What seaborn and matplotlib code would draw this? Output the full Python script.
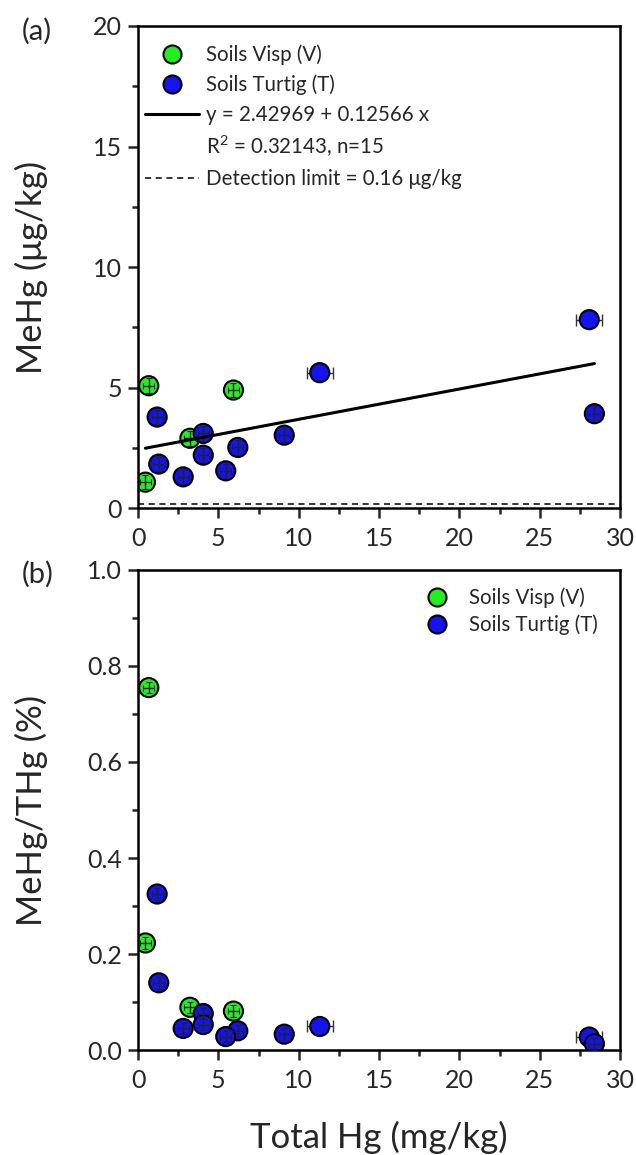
import numpy as np
import pandas as pd
import matplotlib
matplotlib.use("Agg")
import matplotlib.pyplot as plt
import seaborn as sns
from matplotlib.lines import Line2D
from matplotlib.ticker import MultipleLocator, FormatStrFormatter

# ---------------- data ----------------
visp_thg = [0.67, 5.94, 3.23, 0.46]
visp_thg_err = [0.35, 0.35, 0.35, 0.35]
visp_mehg = [5.08, 4.90, 2.90, 1.08]
visp_mehg_err = [0.3, 0.3, 0.3, 0.3]
visp_ratio = [0.755, 0.081, 0.089, 0.223]
visp_ratio_err = [0.012, 0.012, 0.012, 0.012]

turtig_thg = [1.19, 4.06, 9.10, 6.21, 4.06, 1.29, 5.46, 2.81, 11.31, 28.08, 28.40]
turtig_thg_err = [0.35, 0.35, 0.35, 0.35, 0.35, 0.35, 0.35, 0.35, 0.80, 0.80, 0.40]
turtig_mehg = [3.78, 3.10, 3.03, 2.52, 2.20, 1.83, 1.55, 1.30, 5.62, 7.82, 3.92]
turtig_mehg_err = [0.3, 0.3, 0.3, 0.3, 0.3, 0.3, 0.3, 0.3, 0.0, 0.0, 0.3]
turtig_ratio = [0.325, 0.076, 0.033, 0.040, 0.053, 0.140, 0.028, 0.045, 0.049, 0.027, 0.013]
turtig_ratio_err = [0.012] * 11

sites = ["Soils Visp (V)", "Soils Turtig (T)"]
site_colors = ["#22EE22", "#1414EE"]
fit_intercept = 2.42969
fit_slope = 0.12566
fit_label = "y = 2.42969 + 0.12566 x"
r2_label = "R$^2$ = 0.32143, n=15"
detection_limit = 0.16
detection_label = "Detection limit = 0.16 \u03bcg/kg"

x_ticks = [0, 5, 10, 15, 20, 25, 30]
top_y_ticks = [0, 5, 10, 15, 20]
bot_y_ticks = [0.0, 0.2, 0.4, 0.6, 0.8, 1.0]

df = pd.concat([
    pd.DataFrame({"site": sites[0], "thg": visp_thg, "thg_err": visp_thg_err,
                  "mehg": visp_mehg, "mehg_err": visp_mehg_err,
                  "ratio": visp_ratio, "ratio_err": visp_ratio_err}),
    pd.DataFrame({"site": sites[1], "thg": turtig_thg, "thg_err": turtig_thg_err,
                  "mehg": turtig_mehg, "mehg_err": turtig_mehg_err,
                  "ratio": turtig_ratio, "ratio_err": turtig_ratio_err}),
], ignore_index=True)

# ---------------- style ----------------
sns.set_style("ticks")
FAM = ["Lato", "DejaVu Sans"]
plt.rcParams["font.family"] = FAM
plt.rcParams["mathtext.fontset"] = "custom"
plt.rcParams["mathtext.rm"] = "Lato"
plt.rcParams["mathtext.it"] = "Lato:italic"
plt.rcParams["axes.linewidth"] = 1.8
for a in ("x", "y"):
    plt.rcParams[f"{a}tick.major.width"] = 1.8
    plt.rcParams[f"{a}tick.minor.width"] = 1.8
    plt.rcParams[f"{a}tick.major.size"] = 7.5
    plt.rcParams[f"{a}tick.minor.size"] = 4
plt.rcParams["axes.edgecolor"] = "black"

fig = plt.figure(figsize=(6.36, 11.55), dpi=100)
ax1 = fig.add_axes([0.217, 0.560, 0.758, 0.4175])
ax2 = fig.add_axes([0.217, 0.0909, 0.758, 0.4156])

palette = dict(zip(sites, site_colors))
TICK_FS = 18
LABEL_FS = 25
LEG_FS = 14.8


def draw(ax, ycol, yerrcol):
    big = df["thg_err"] > 0.5
    # large error bars behind markers
    ax.errorbar(df.loc[big, "thg"], df.loc[big, ycol], xerr=df.loc[big, "thg_err"],
                yerr=df.loc[big, yerrcol], fmt="none", ecolor="#333333",
                elinewidth=1.0, capsize=4, capthick=1.0, zorder=1)
    sns.scatterplot(data=df, x="thg", y=ycol, hue="site", palette=palette,
                    s=190, edgecolor="black", linewidth=1.5, legend=False,
                    zorder=2, ax=ax)
    # small error bars on top (visible as crosses in the markers)
    ax.errorbar(df.loc[~big, "thg"], df.loc[~big, ycol], xerr=df.loc[~big, "thg_err"],
                yerr=df.loc[~big, yerrcol], fmt="none", ecolor="#222222",
                elinewidth=1.0, capsize=2, capthick=0.8, zorder=3)


def style_axes(ax):
    for s in ["top", "right"]:
        ax.spines[s].set_visible(True)
    ax.tick_params(axis="x", which="both", labelsize=TICK_FS, direction="out", pad=6)
    ax.tick_params(axis="y", which="both", labelsize=TICK_FS, direction="out", pad=4)
    ax.xaxis.set_minor_locator(MultipleLocator(2.5))


# ---------------- panel (a) ----------------
draw(ax1, "mehg", "mehg_err")
xs = np.array([df["thg"].min(), df["thg"].max()])
ax1.plot(xs, fit_intercept + fit_slope * xs, color="black", lw=2.2, zorder=4)
ax1.axhline(detection_limit, color="black", lw=1.1, ls=(0, (4, 3)), zorder=1)
ax1.set_xlim(0, 30)
ax1.set_ylim(0, 20)
ax1.set_xticks(x_ticks)
ax1.set_yticks(top_y_ticks)
ax1.yaxis.set_minor_locator(MultipleLocator(2.5))
ax1.set_xlabel("")
ax1.set_ylabel("MeHg (\u03bcg/kg)", fontsize=LABEL_FS)
ax1.yaxis.set_label_coords(-0.187, 0.5)
style_axes(ax1)

handles_a = [
    Line2D([], [], ls="none", marker="o", markersize=13, markerfacecolor=site_colors[0],
           markeredgecolor="black", markeredgewidth=1.5),
    Line2D([], [], ls="none", marker="o", markersize=13, markerfacecolor=site_colors[1],
           markeredgecolor="black", markeredgewidth=1.5),
    Line2D([], [], color="black", lw=2.2),
    Line2D([], [], ls="none", marker=None, visible=False),
    Line2D([], [], color="black", lw=1.1, ls=(0, (4, 3))),
]
labels_a = [sites[0], sites[1], fit_label, r2_label, detection_label]
ax1.legend(handles_a, labels_a, loc="upper left", bbox_to_anchor=(0.0, 0.977),
           frameon=False, fontsize=LEG_FS, handlelength=2.6, handletextpad=0.35,
           labelspacing=0.47, borderaxespad=0.15, borderpad=0.2)
ax1.text(-0.241, 0.99, "(a)", transform=ax1.transAxes, fontsize=21,
         ha="left", va="center")

# ---------------- panel (b) ----------------
draw(ax2, "ratio", "ratio_err")
ax2.set_xlim(0, 30)
ax2.set_ylim(0, 1.0)
ax2.set_xticks(x_ticks)
ax2.set_yticks(bot_y_ticks)
ax2.yaxis.set_major_formatter(FormatStrFormatter("%.1f"))
ax2.yaxis.set_minor_locator(MultipleLocator(0.1))
ax2.set_xlabel("Total Hg (mg/kg)", fontsize=LABEL_FS)
ax2.set_ylabel("MeHg/THg (%)", fontsize=LABEL_FS)
ax2.yaxis.set_label_coords(-0.187, 0.5)
ax2.xaxis.set_label_coords(0.5, -0.148)
style_axes(ax2)

handles_b = handles_a[:2]
ax2.legend(handles_b, sites[:2], loc="upper right", bbox_to_anchor=(0.975, 0.985),
           frameon=False, fontsize=LEG_FS, handlelength=1.5, handletextpad=0.8,
           labelspacing=0.3, borderaxespad=0.2, borderpad=0.3)
ax2.text(-0.241, 0.99, "(b)", transform=ax2.transAxes, fontsize=21,
         ha="left", va="center")

fig.savefig("out.png", dpi=100)
